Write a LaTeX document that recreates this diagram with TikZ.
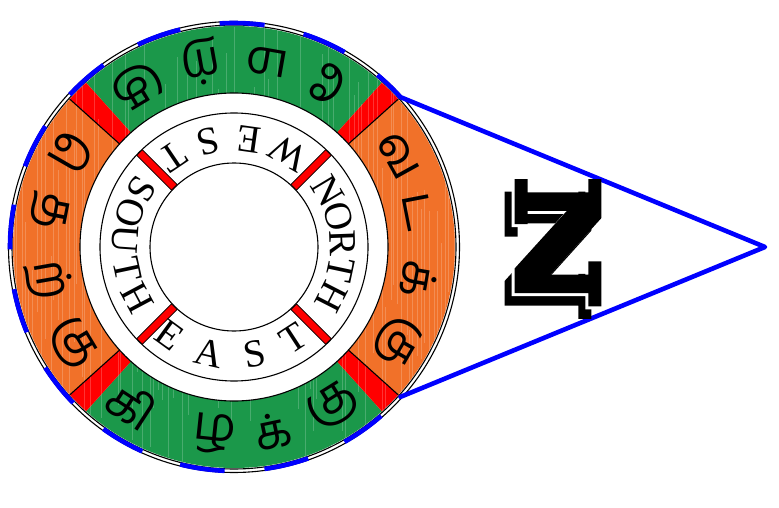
\documentclass[tikz,border=0pt]{standalone}
\usepackage{fontspec}
\usepackage{tikz}
\usetikzlibrary{calc}
\newfontfamily\tamilfont[Script=Tamil]{Hind Madurai}
\newfontfamily\romanfont{Liberation Serif}
\newfontfamily\logofont[FakeBold=6]{DejaVu Serif Bold}
\definecolor{ringgreen}{RGB}{27,152,74}
\definecolor{ringorange}{RGB}{241,113,41}
\definecolor{ringred}{RGB}{255,0,0}
\definecolor{pointerblue}{RGB}{0,0,255}
\newcommand\vowelsign[1]{\XeTeXglyph\XeTeXcharglyph"#1\relax}

\begin{document}
\begin{tikzpicture}[x=1pt, y=1pt,
  tamil/.style={font=\tamilfont\fontsize{48}{48}\selectfont, inner sep=0pt},
  compass/.style={font=\romanfont\fontsize{39}{39}\selectfont, inner sep=0pt},
  logo/.style={font=\logofont\fontsize{110}{110}\selectfont, rotate=-90, xscale=1.3, inner sep=0pt},
  rim/.style={black, line width=1.1pt},
  pointer/.style={pointerblue, line width=4.6pt}]

  \useasboundingbox (0,0) rectangle (779,507);
  \coordinate (c) at (234,260);

  \foreach \a/\b/\col in {-42/42/ringorange, 48/132/ringgreen, 138/222/ringorange, 228/312/ringgreen,
                          42/48/ringred, 132/138/ringred, 222/228/ringred, 312/318/ringred}
    \fill[\col] ($(c)+(\a:154)$) arc[start angle=\a, end angle=\b, radius=154]
      -- ($(c)+(\b:221)$) arc[start angle=\b, end angle=\a, radius=221] -- cycle;

  \begin{scope}
    \clip (c) circle[radius=221];
    \pgfmathsetseed{7}
    \foreach \i in {0,...,110} {
      \pgfmathsetmacro\sx{12+4*\i+3*rnd}
      \pgfmathsetmacro\sy{40+200*rnd}
      \draw[white, opacity=0.2, line width=0.5pt] (\sx,\sy) -- ++(0,120+200*rnd);
    }
  \end{scope}
  \fill[white] (c) circle[radius=154];

  \draw[rim] (c) circle[radius=225.5];
  \draw[rim] (c) circle[radius=222];
  \draw[rim] (c) circle[radius=154];
  \draw[rim] (c) circle[radius=134];
  \draw[rim] (c) circle[radius=84];
  \draw[rim] ($(c)+(42:154)$) -- ($(c)+(42:221)$);
  \draw[rim] ($(c)+(138:154)$) -- ($(c)+(138:221)$);
  \draw[rim] ($(c)+(222:154)$) -- ($(c)+(222:221)$);
  \draw[rim] ($(c)+(318:154)$) -- ($(c)+(318:221)$);

  \foreach \a in {45,135,225,315}
    \filldraw[fill=ringred, draw=black, line width=0.7pt]
      ($(c)+(\a:84.5)+(\a+90:4)$) -- ($(c)+(\a:133.5)+(\a+90:4)$)
      -- ($(c)+(\a:133.5)+(\a-90:4)$) -- ($(c)+(\a:84.5)+(\a-90:4)$) -- cycle;

  \node[tamil, rotate=-61] (va) at ($(c)+(29:188)$) {வ};
  \node[tamil, rotate=-79] (ta) at ($(c)+(11:188)$) {ட};
  \node[tamil, rotate=-100] (ka) at ($(c)+(-10:188)$) {க்};
  \node[tamil, rotate=-120] (ku) at ($(c)+(-30:188)$) {கு};

  \node[tamil, rotate=150] (mee) at ($(c)+(60:188)$) {\vowelsign{0BC7}};
  \node[tamil, rotate=170] (ma) at ($(c)+(80:188)$) {ம};
  \node[tamil, rotate=190] (rra) at ($(c)+(100:188)$) {ற்};
  \node[tamil, rotate=211] (mku) at ($(c)+(121:188)$) {கு};

  \node[tamil, rotate=240] (tee) at ($(c)+(150:188)$) {\vowelsign{0BC6}};
  \node[tamil, rotate=259] (tha) at ($(c)+(169:188)$) {த};
  \node[tamil, rotate=280] (trra) at ($(c)+(190:188)$) {ற்};
  \node[tamil, rotate=301] (tku) at ($(c)+(211:188)$) {கு};

  \node[tamil, rotate=327] (ki) at ($(c)+(237:188)$) {கி};
  \node[tamil, rotate=354] (zha) at ($(c)+(264:188)$) {ழ};
  \node[tamil, rotate=12] (kka) at ($(c)+(282:188)$) {க்};
  \node[tamil, rotate=32] (kku) at ($(c)+(302:188)$) {கு};

  \node[compass, rotate=-59] (n1) at ($(c)+(31:109)$) {N};
  \node[compass, rotate=-74] (n2) at ($(c)+(16:109)$) {O};
  \node[compass, rotate=-88] (n3) at ($(c)+(2:109)$) {R};
  \node[compass, rotate=-102] (n4) at ($(c)+(-12:109)$) {T};
  \node[compass, rotate=-117] (n5) at ($(c)+(-27:109)$) {H};

  \node[compass, rotate=150] (w1) at ($(c)+(60:109)$) {W};
  \node[compass, rotate=172] (w2) at ($(c)+(82:109)$) {E};
  \node[compass, rotate=194] (w3) at ($(c)+(104:109)$) {S};
  \node[compass, rotate=214] (w4) at ($(c)+(124:109)$) {T};

  \node[compass, rotate=238] (s1) at ($(c)+(148:109)$) {S};
  \node[compass, rotate=252] (s2) at ($(c)+(162:109)$) {O};
  \node[compass, rotate=266] (s3) at ($(c)+(176:109)$) {U};
  \node[compass, rotate=282] (s4) at ($(c)+(192:109)$) {T};
  \node[compass, rotate=298] (s5) at ($(c)+(208:109)$) {H};

  \node[compass, rotate=324] (e1) at ($(c)+(234:109)$) {E};
  \node[compass, rotate=347] (e2) at ($(c)+(257:109)$) {A};
  \node[compass, rotate=11] (e3) at ($(c)+(281:109)$) {S};
  \node[compass, rotate=33] (e4) at ($(c)+(303:109)$) {T};

  \coordinate (upper) at ($(c)+(42:224)$);
  \coordinate (lower) at ($(c)+(-42:224)$);
  \coordinate (tip) at (765,260);
  \draw[pointer, dash pattern=on 45pt off 40pt, dash phase=13pt]
    (upper) arc[start angle=42, end angle=318, radius=224];
  \draw[pointer, line join=round, line cap=round] (upper) -- (tip) -- (lower);

  \node[logo] (nshadow) at (548,252) {N};
  \node[logo, white] (nedge) at (555,261.5) {N};
  \node[logo] (nmain) at (558,264.5) {N};
\end{tikzpicture}
\end{document}
